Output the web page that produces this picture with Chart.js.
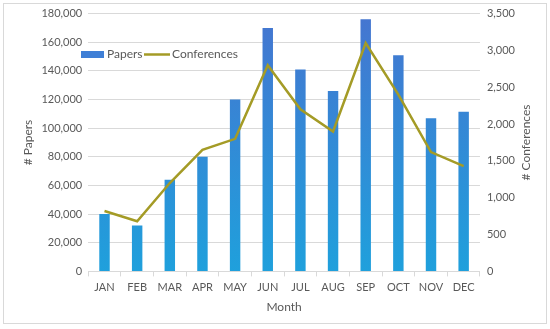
<!DOCTYPE html>
<html>
<head>
<meta charset="utf-8">
<script src="https://cdn.jsdelivr.net/npm/chart.js@4/dist/chart.umd.min.js"></script>
<style>
  html, body { margin: 0; padding: 0; background: #fff; }
  #wrap { width: 550px; height: 329px; position: relative; }
</style>
</head>
<body>
<div id="wrap"><canvas id="chart"></canvas></div>
<script>
const meses = ['JAN', 'FEB', 'MAR', 'APR', 'MAY', 'JUN', 'JUL', 'AUG', 'SEP', 'OCT', 'NOV', 'DEC']
const papers = [40000, 32000, 64000, 80000, 120000, 170000, 141000, 126000, 176000, 151000, 107000, 111500]
const conferences = [820, 680, 1200, 1650, 1800, 2800, 2200, 1900, 3100, 2400, 1620, 1430]
const tituloDerecho = '# Conferences'

const gris = '#595959'
const fuente = 'Lato, "Open Sans", sans-serif'

// marco exterior, título derecho (leído hacia arriba) y leyenda dentro del área
const extras = {
  id: 'extras',
  afterDraw(chart) {
    const c = chart.ctx
    const area = chart.chartArea
    const linea = chart.data.datasets.find(d => d.type === 'line')
    const barras = chart.data.datasets.find(d => d.type === 'bar')
    c.save()
    c.strokeStyle = '#d9d9d9'
    c.lineWidth = 1
    c.strokeRect(3.5, 3.5, 543, 320)

    c.font = '12px ' + fuente
    c.fillStyle = gris
    c.save()
    c.translate(526, (area.top + area.bottom) / 2)
    c.rotate(-Math.PI / 2)
    c.textAlign = 'center'
    c.textBaseline = 'middle'
    c.fillText(tituloDerecho, 0, 0)
    c.restore()

    const y = 54.5
    c.fillStyle = '#3f7fd6'
    c.fillRect(81, y - 3.5, 23, 7)
    c.fillStyle = gris
    c.textBaseline = 'middle'
    c.fillText(barras.label, 107, y)
    c.strokeStyle = linea.borderColor
    c.lineWidth = 2.5
    c.beginPath()
    c.moveTo(144, y)
    c.lineTo(170, y)
    c.stroke()
    c.fillText(linea.label, 172, y)
    c.restore()
  }
}

function degradado(ctx) {
  const area = ctx.chart.chartArea
  if (!area) return '#3a86d6'
  const g = ctx.chart.ctx.createLinearGradient(0, area.top, 0, area.bottom)
  g.addColorStop(0, '#4575d0')
  g.addColorStop(1, '#1fa0dc')
  return g
}

new Chart(document.getElementById('chart'), {
  data: {
    labels: meses,
    datasets: [
      { type: 'line', label: 'Conferences', data: conferences, yAxisID: 'y2', borderColor: '#a49b26', borderWidth: 2.5, pointRadius: 0, tension: 0, order: 0 },
      { type: 'bar', label: 'Papers', data: papers, yAxisID: 'y', backgroundColor: degradado, barPercentage: 0.32, categoryPercentage: 1, order: 1 }
    ]
  },
  options: {
    responsive: true,
    maintainAspectRatio: false,
    animation: false,
    layout: { padding: { left: 21, right: 28, top: 12, bottom: 11 } },
    plugins: { legend: { display: false }, tooltip: { enabled: false } },
    scales: {
      x: {
        grid: { display: true, drawOnChartArea: false, offset: true, color: '#d9d9d9', tickLength: 5 },
        border: { color: '#d9d9d9' },
        ticks: { color: gris, font: { family: fuente, size: 11 }, padding: 4 },
        title: { display: true, text: 'Month', color: gris, font: { family: fuente, size: 12 }, padding: { top: 2 } }
      },
      y: {
        position: 'left',
        min: 0, max: 180000,
        ticks: { stepSize: 20000, color: gris, font: { family: fuente, size: 11 }, padding: 6,
          callback: v => v.toLocaleString('en-US') },
        grid: { color: '#d9d9d9', drawTicks: false },
        border: { display: false },
        title: { display: true, text: '# Papers', color: gris, font: { family: fuente, size: 12 }, padding: { top: 0, bottom: 0 } }
      },
      y2: {
        position: 'right',
        min: 0, max: 3500,
        ticks: { stepSize: 500, color: gris, font: { family: fuente, size: 11 }, padding: 7,
          callback: v => v.toLocaleString('en-US') },
        grid: { display: false, drawTicks: false },
        border: { display: false },
        title: { display: false }
      }
    }
  },
  plugins: [extras]
})
</script>
</body>
</html>
